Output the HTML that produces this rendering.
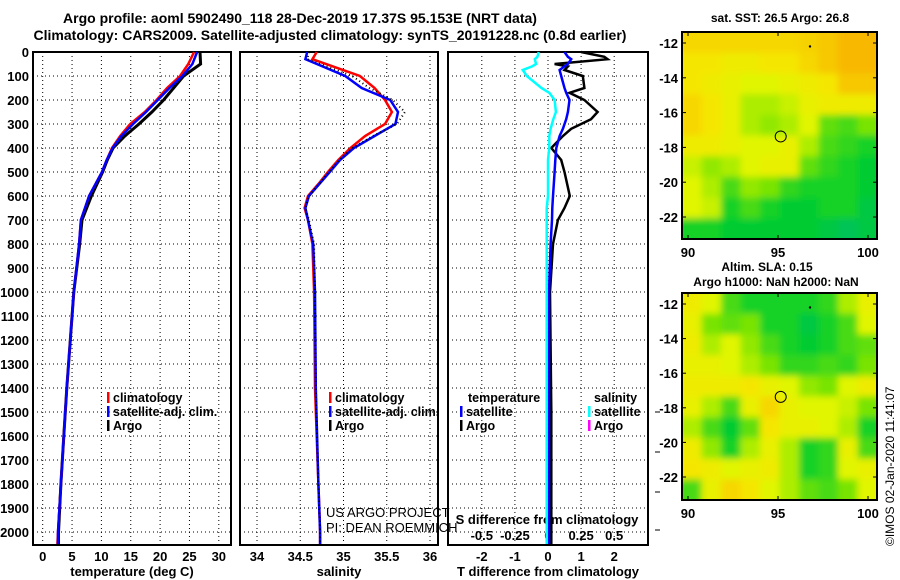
<!DOCTYPE html>
<html><head><meta charset="utf-8">
<style>
html,body{margin:0;padding:0;background:#fff;}
svg{display:block;font-family:"Liberation Sans",sans-serif;}
.b{font-weight:bold;}
</style></head>
<body>
<svg id="chart" width="900" height="580" viewBox="0 0 900 580" xmlns="http://www.w3.org/2000/svg">
<defs>
<filter id="blur" x="-5%" y="-5%" width="110%" height="110%"><feGaussianBlur stdDeviation="3.5"/></filter>
<clipPath id="clipA"><rect x="682" y="32" width="195" height="207"/></clipPath>
<clipPath id="clipB"><rect x="682" y="293" width="195" height="207"/></clipPath>
</defs>
<text x="300" y="23" text-anchor="middle" class="b" font-size="14">Argo profile: aoml 5902490_118 28-Dec-2019 17.37S 95.153E (NRT data)</text>
<text x="330" y="40" text-anchor="middle" class="b" font-size="14">Climatology: CARS2009. Satellite-adjusted climatology: synTS_20191228.nc (0.8d earlier)</text>
<text x="780" y="22" text-anchor="middle" class="b" font-size="12">sat. SST: 26.5 Argo: 26.8</text>
<text x="767" y="271" text-anchor="middle" class="b" font-size="12">Altim. SLA: 0.15</text>
<text x="776" y="286" text-anchor="middle" class="b" font-size="12">Argo h1000: NaN h2000: NaN</text>
<text transform="translate(894,546) rotate(-90)" font-size="12">©IMOS 02-Jan-2020 11:41:07</text>
<g id="g"></g>
</svg>
<script>
// ---- profile data ----
const depthLabels=[0,100,200,300,400,500,600,700,800,900,1000,1100,1200,1300,1400,1500,1600,1700,1800,1900,2000];
const tTicks=[0,5,10,15,20,25,30];
const sTicks=[34,34.5,35,35.5,36];
const dTTicks=[-2,-1,0,1,2];
const dSTicks=[-0.5,-0.25,0,0.25,0.5];
const tDepth=[0,50,100,150,200,250,300,350,400,450,500,600,700,800,1000,1200,1400,1600,1800,2000,2050];
const tClim=[25.8,24.8,23.4,21.2,19.4,17.4,14.9,13.2,11.8,10.9,10.1,7.9,6.5,6.2,5.3,4.7,4.1,3.6,3.1,2.6,2.5];
const tSat=[26.3,25.5,23.8,21.6,19.6,17.6,15.4,13.4,11.9,10.9,10.1,7.9,6.5,6.2,5.3,4.7,4.1,3.6,3.1,2.6,2.6];
const tArgo=[26.8,26.9,24.0,22.3,20.6,18.6,16.4,14.0,12.0,11.0,10.2,8.3,6.7,6.3,5.3,4.7,4.1,3.6,3.1,2.7,2.7];
const sDepth=[0,30,100,150,200,250,300,350,400,450,500,550,600,650,700,800,1000,1400,1800,2000,2050];
const sClim=[34.69,34.64,35.19,35.36,35.48,35.56,35.48,35.25,35.08,34.94,34.82,34.71,34.59,34.55,34.59,34.64,34.66,34.67,34.71,34.73,34.73];
const sSat=[34.58,34.56,35.02,35.21,35.54,35.63,35.60,35.36,35.12,34.96,34.84,34.72,34.60,34.56,34.59,34.65,34.67,34.68,34.71,34.73,34.73];
const sArgo=[34.60,34.58,35.10,35.30,35.57,35.71,35.62,35.34,35.10,34.95,34.83,34.72,34.60,34.56,34.60,34.66,34.67,34.68,34.71,34.73,34.73];
const dDepth=[0,20,30,50,60,75,100,150,170,200,250,280,320,350,400,450,500,600,650,700,800,1000,1500,2000,2050];
const dTSat=[0.5,0.6,0.7,0.6,0.5,0.35,0.4,0.5,0.55,0.65,0.6,0.55,0.45,0.35,0.25,0.22,0.2,0.15,0.13,0.12,0.08,0.03,0.03,0.03,0.03];
const dTArgo=[1.0,1.7,1.8,0.2,0.6,0.5,1.05,1.1,0.65,1.1,1.5,1.3,0.7,0.45,0.1,0.4,0.5,0.66,0.5,0.3,0.15,0.06,0.1,0.1,0.1];
const dSSat=[-0.07,-0.08,-0.1,-0.09,-0.12,-0.19,-0.16,-0.05,0.01,0.05,0.06,0.04,0.02,0.01,0.01,0.0,0.0,0.0,-0.01,-0.01,-0.01,-0.01,-0.01,-0.01,-0.01];
// ---- map data (0 = teal/green, 1 = orange) ----
const mapLatTicks=[-12,-14,-16,-18,-20,-22];
const mapLonTicks=[90,95,100];
const sstGrid=[
[.9,.9,.9,.9,.9,.9,.92,.95,1,1],
[.85,.85,.8,.8,.85,.85,.9,.95,1,1],
[.85,.8,.75,.7,.7,.75,.8,.85,.95,.95],
[.9,.85,.75,.6,.6,.65,.75,.8,.8,.8],
[.9,.85,.75,.6,.55,.6,.7,.45,.4,.5],
[.8,.8,.75,.7,.7,.75,.6,.4,.35,.3],
[.65,.55,.6,.7,.75,.75,.45,.35,.3,.25],
[.7,.6,.4,.55,.5,.35,.3,.3,.3,.25],
[.7,.65,.3,.4,.3,.25,.25,.3,.3,.2],
[.3,.3,.25,.25,.25,.25,.25,.2,.15,.2]];
const slaGrid=[
[.8,.7,.4,.3,.3,.3,.3,.35,.6,.75],
[.75,.5,.45,.5,.3,.3,.2,.3,.4,.7],
[.8,.6,.7,.55,.4,.3,.25,.3,.4,.45],
[.75,.75,.7,.6,.5,.35,.35,.4,.35,.5],
[.8,.8,.8,.85,.75,.7,.55,.5,.7,.8],
[.75,.6,.4,.75,.9,.75,.7,.7,.65,.5],
[.6,.4,.25,.45,.85,.75,.75,.7,.6,.3],
[.8,.55,.3,.6,.75,.6,.3,.35,.75,.4],
[.85,.8,.7,.75,.8,.6,.3,.35,.7,.75],
[.4,.75,.9,.85,.7,.6,.45,.4,.5,.7]];
const argoLon=[95.15];
const argoLat=[-17.37];

const NS='http://www.w3.org/2000/svg';
const G=document.getElementById('g');
function mk(t,a,p){const e=document.createElementNS(NS,t);for(const k in a)e.setAttribute(k,a[k]);(p||G).appendChild(e);return e;}
function txt(x,y,s,anchor,size,bold,p){const e=mk('text',{x:x,y:y,'text-anchor':anchor||'middle','font-size':size||12},p);if(bold!==false)e.setAttribute('font-weight','bold');e.textContent=s;return e;}

const TOP=52,BOT=545;
const yD=d=>52+d*0.24;
const xT=v=>42.7+v*5.87;
const xS=v=>257+(v-34)*86.5;
const xDT=v=>548+v*33.1;
const xDS=v=>548+v*132.4;

function panel(name,x0,x1,ticks,xf,labels,axisTitle){
  const g=mk('g',{});
  
  
  ticks.forEach(t=>{const l=mk('line',{x1:xf(t),x2:xf(t),y1:TOP,y2:BOT,stroke:'#000','stroke-width':1,'stroke-dasharray':'1 3'},g);});
  depthLabels.forEach(d=>{const l=mk('line',{x1:x0,x2:x1,y1:yD(d),y2:yD(d),stroke:'#000','stroke-width':1,'stroke-dasharray':'1 3'},g);});
  const f=mk('rect',{x:x0,y:TOP,width:x1-x0,height:BOT-TOP,fill:'none',stroke:'#000','stroke-width':2},g);
  
  if(labels){ticks.forEach(t=>{const e=txt(xf(t),561,String(t),'middle',13,true,g);});}
  const at=txt((x0+x1)/2,576,axisTitle,'middle',13,true,g);
  
  return g;
}
function line(xs,ds,xf,color,w,dash,name){
  const pts=xs.map((v,i)=>xf(v).toFixed(1)+','+yD(ds[i]).toFixed(1)).join(' ');
  const a={points:pts,fill:'none',stroke:color,'stroke-width':w};
  if(dash)a['stroke-dasharray']=dash;
  const e=mk('polyline',a);
  
  
}
panel('temperature-panel',33,231,tTicks,xT,true,'temperature (deg C)');
panel('salinity-panel',240,438,sTicks,xS,true,'salinity');
panel('difference-panel',448,648,dTTicks,xDT,true,'T difference from climatology');
depthLabels.forEach(d=>{const e=txt(29,yD(d)+5,String(d),'end',13,true);});
const sdt=txt(547,524,'S difference from climatology','middle',13,true);

dSTicks.forEach(v=>{const e=txt(xDS(v),540,String(v),'middle',13,true);});
[412,452,492,530].forEach(y=>{const l=mk('line',{x1:655,x2:660,y1:y,y2:y,stroke:'#000'});});

line(tArgo,tDepth,xT,'#000',3,null,'temp-argo-line');
line(tClim,tDepth,xT,'#f00',2.5,null,'temp-climatology-line');
line(tSat,tDepth,xT,'#00f',2.5,null,'temp-satellite-line');
line(sClim,sDepth,xS,'#f00',2.5,null,'sal-climatology-line');
line(sSat,sDepth,xS,'#00f',2.5,null,'sal-satellite-line');
line(sArgo,sDepth,xS,'#000',2,'1 3','sal-argo-line');
line(dTArgo,dDepth,xDT,'#000',2.5,null,'tdiff-argo-line');
line(dTSat,dDepth,xDT,'#00f',2.5,null,'tdiff-satellite-line');
line(dSSat,dDepth,xDS,'#0ff',2.5,null,'sdiff-satellite-line');

function legend(x,y,color,label,name){
  const g=mk('g',{});
  
  mk('rect',{x:x,y:y-10,width:2.5,height:11,fill:color},g);
  txt(x+6,y,label,'start',12.5,true,g);
}
legend(107,402,'#f00','climatology','legend-temp-climatology');
legend(107,416,'#00f','satellite-adj. clim.','legend-temp-satellite');
legend(107,430,'#000','Argo','legend-temp-argo');
legend(329,402,'#f00','climatology','legend-sal-climatology');
legend(329,416,'#00f','satellite-adj. clim.','legend-sal-satellite');
legend(329,430,'#000','Argo','legend-sal-argo');
const lt=txt(468,402,'temperature','start',12.5,true);
legend(460,416,'#00f','satellite','legend-tdiff-satellite');
legend(460,430,'#000','Argo','legend-tdiff-argo');
const ls=txt(594,402,'salinity','start',12.5,true);
legend(588,416,'#0ff','satellite','legend-sdiff-satellite');
legend(588,430,'#f0f','Argo','legend-sdiff-argo');
const c1=txt(326,517,'US ARGO PROJECT','start',13,false);
const c2=txt(326,532,'PI: DEAN ROEMMICH','start',13,false);

const stops=[[0,[0,184,144]],[0.25,[0,204,48]],[0.5,[120,228,0]],[0.7,[225,245,0]],[0.85,[245,230,0]],[1,[248,184,0]]];
function cmap(v){for(let i=1;i<stops.length;i++){if(v<=stops[i][0]){const a=stops[i-1],b=stops[i];const t=(v-a[0])/(b[0]-a[0]);const c=a[1].map((x,k)=>Math.round(x+(b[1][k]-x)*t));return 'rgb('+c.join(',')+')';}}return 'rgb(248,184,0)';}
function map(name,grid,x0,x1,y0,y1,lat12y,lat22y,clip){
  const g=mk('g',{});
  
  const lonX=l=>778+(l-95)*18;
  const latY=l=>lat12y+(-12-l)*(lat22y-lat12y)/10;
  const R=grid.length,C=grid[0].length,cw=(x1-x0)/C,ch=(y1-y0)/R;
  const cg=mk('g',{'clip-path':'url(#'+clip+')'},g);
  
  const bg=mk('g',{filter:'url(#blur)'},cg);
  grid.forEach((row,r)=>row.forEach((v,c)=>{
    const ex=(c===0?-12:0),ey=(r===0?-12:0),ew=(c===C-1?12:0)-ex,eh=(r===R-1?12:0)-ey;
    const e=mk('rect',{x:x0+c*cw+ex,y:y0+r*ch+ey,width:cw+0.6+ew,height:ch+0.6+eh,fill:cmap(v)},bg);
    }));
  const f=mk('rect',{x:x0,y:y0,width:x1-x0,height:y1-y0,fill:'none',stroke:'#000','stroke-width':2},g);
  
  mapLatTicks.forEach(l=>{mk('line',{x1:x0,x2:x0+4,y1:latY(l),y2:latY(l),stroke:'#000'},g);mk('line',{x1:x1-4,x2:x1,y1:latY(l),y2:latY(l),stroke:'#000'},g);const e=txt(x0-4,latY(l)+5,String(l),'end',13,true,g);});
  mapLonTicks.forEach(l=>{mk('line',{x1:lonX(l),x2:lonX(l),y1:y0,y2:y0+4,stroke:'#000'},g);mk('line',{x1:lonX(l),x2:lonX(l),y1:y1-4,y2:y1,stroke:'#000'},g);const e=txt(lonX(l),y1+18,String(l),'middle',13,true,g);});
  argoLon.forEach((lo,i)=>{const e=mk('circle',{cx:lonX(lo),cy:latY(argoLat[i]),r:5.5,fill:'none',stroke:'#000','stroke-width':1},g);});
  mk('circle',{cx:810,cy:latY(-12.2),r:1.2,fill:'#000'},g);
}
map('sst-map',sstGrid,682,877,32,239,43,217,'clipA');
map('sla-map',slaGrid,682,877,293,500,304,477,'clipB');
</script>
</body></html>
